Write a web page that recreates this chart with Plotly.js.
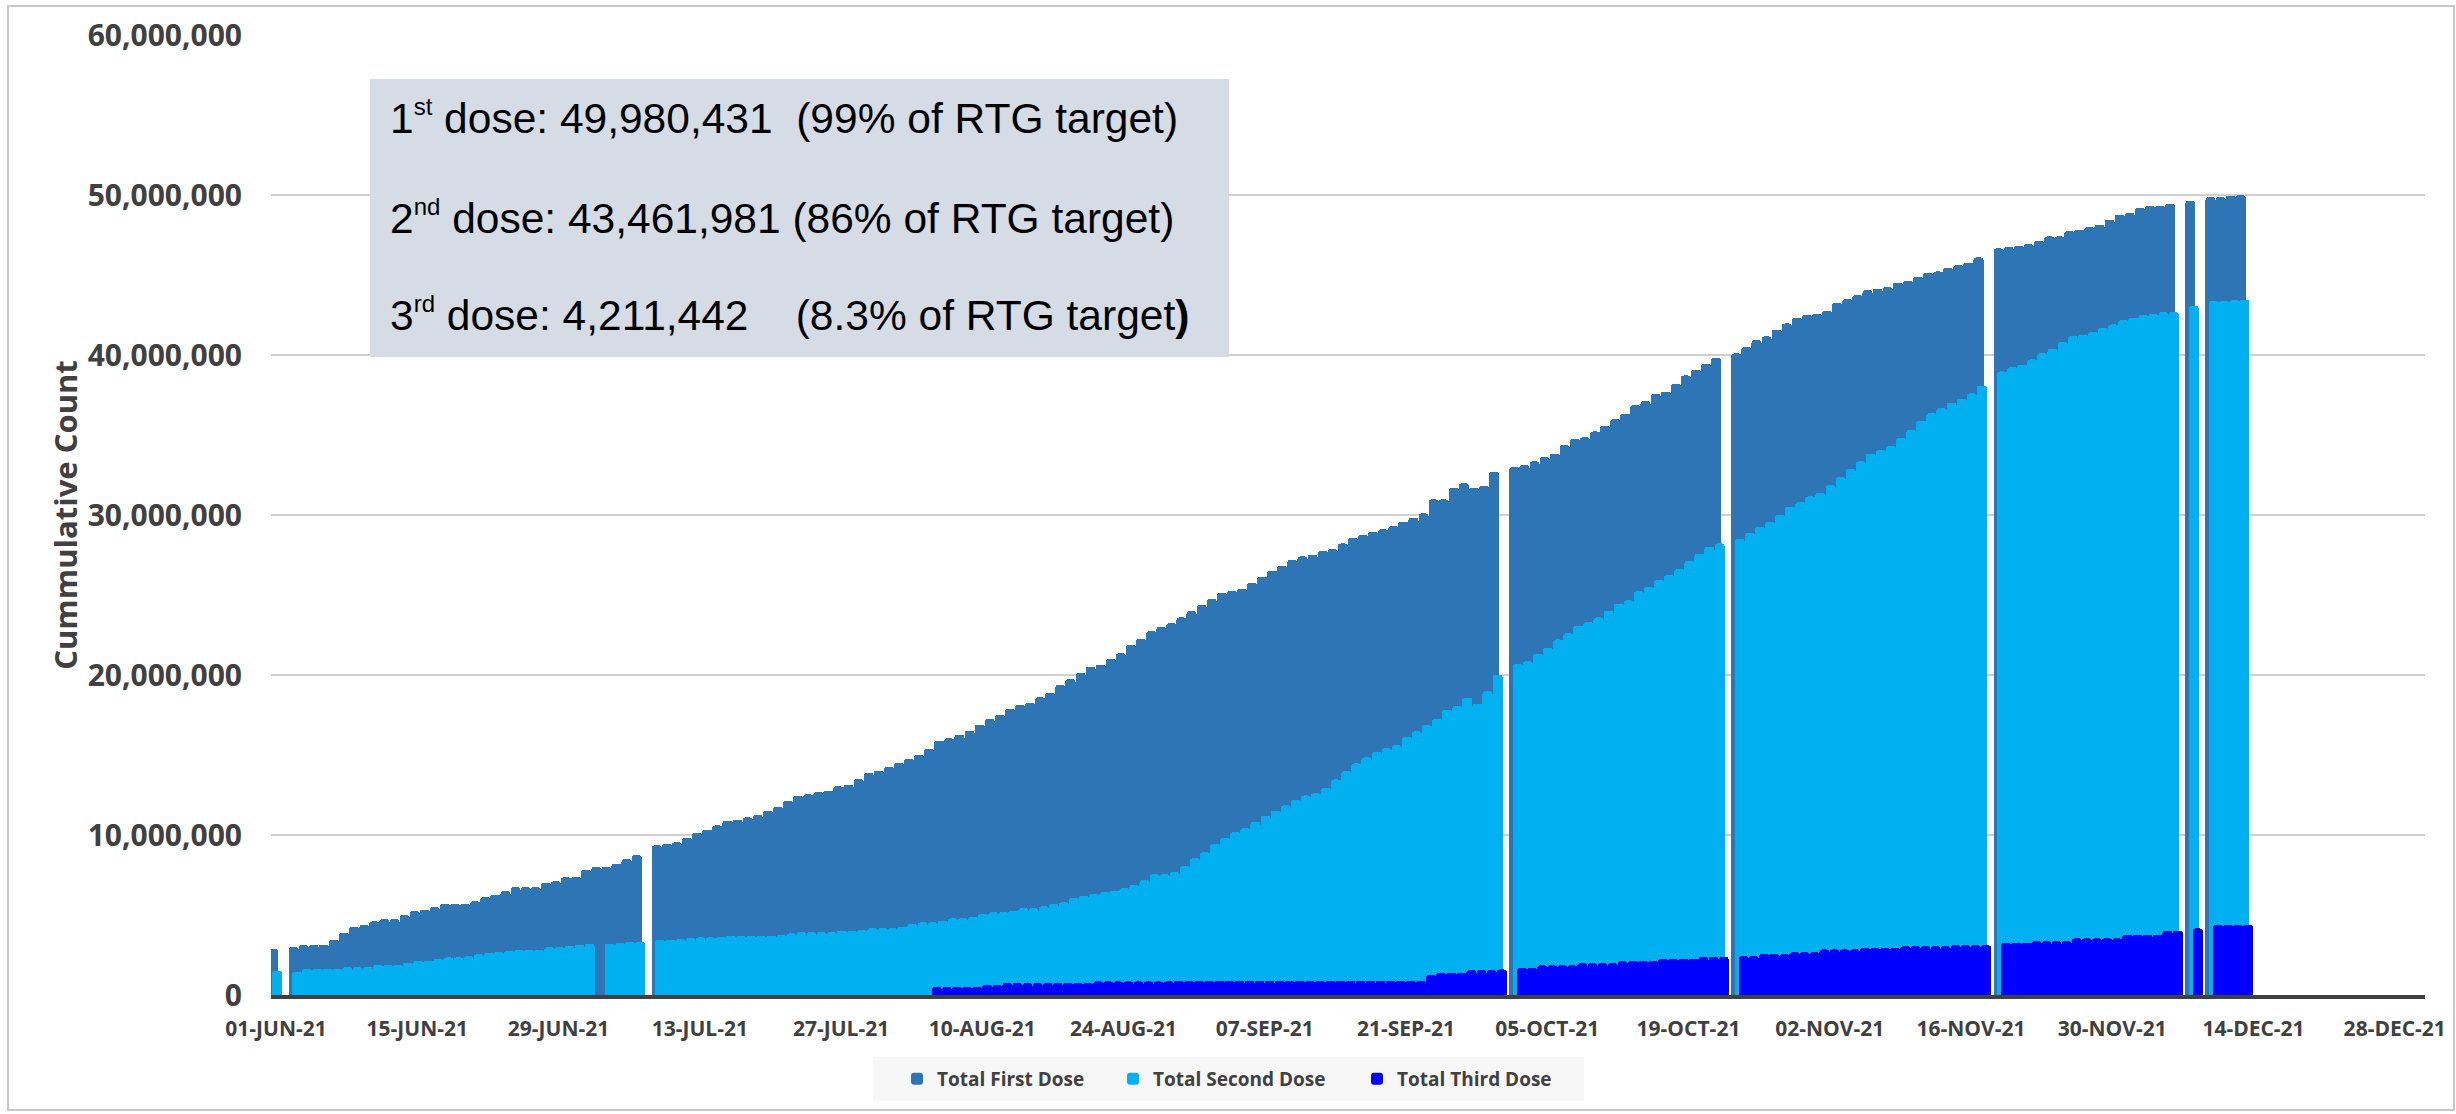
<!DOCTYPE html>
<html>
<head>
<meta charset="utf-8">
<script src="https://cdn.plot.ly/plotly-3.0.1.min.js"></script>
<style>
  html, body { margin: 0; padding: 0; background: #ffffff; }
  #chart { width: 2456px; height: 1114px; }
</style>
</head>
<body>
<div id="chart"></div>
<script>
// ---------------- DATA (values in millions of doses, one entry per day from 01-JUN-21) ----------------
const firstDoseJun = [2.87, null, 2.98, 3.12, 3.12, 3.15, 3.46, 3.87, 4.25, 4.37, 4.60, 4.75, 4.75, 5.00, 5.23, 5.33, 5.48, 5.71, 5.71, 5.71, 5.85, 6.12, 6.27, 6.48, 6.73, 6.73, 6.73, 7.00, 7.10, 7.35];
const firstDoseJul = [7.37, 7.83, 8.00, 8.00, 8.20, 8.50, 8.73, null, 9.35, 9.46, 9.54, 9.81, 10.13, 10.33, 10.60, 10.90, 10.96, 11.10, 11.25, 11.50, 11.75, 12.15, 12.44, 12.54, 12.67, 12.77, 13.04, 13.15, 13.50, 13.88, 14.02];
const firstDoseAug = [14.27, 14.50, 14.75, 15.00, 15.38, 15.90, 16.04, 16.27, 16.52, 16.90, 17.25, 17.50, 17.88, 18.15, 18.25, 18.60, 18.88, 19.38, 19.75, 20.13, 20.52, 20.65, 21.00, 21.35, 21.88, 22.25, 22.73, 23.00, 23.23, 23.60, 24.00];
const firstDoseSep = [24.38, 24.75, 25.13, 25.27, 25.38, 25.75, 26.15, 26.52, 26.82, 27.19, 27.41, 27.53, 27.76, 27.87, 28.22, 28.59, 28.76, 28.96, 29.10, 29.30, 29.59, 29.82, 30.10, 30.97, 30.97, 31.69, 31.98, 31.69, 31.83, 32.69];
const firstDoseOct = [null, 32.98, 33.12, 33.35, 33.61, 33.84, 34.36, 34.76, 34.85, 35.22, 35.56, 35.99, 36.34, 36.86, 37.11, 37.57, 37.71, 38.20, 38.72, 39.09, 39.44, 39.81, null, 40.10, 40.50, 40.93, 41.16, 41.59, 41.97, 42.32, 42.50];
const firstDoseNov = [42.57, 42.77, 43.26, 43.49, 43.75, 44.04, 44.14, 44.24, 44.53, 44.63, 44.89, 45.12, 45.22, 45.44, 45.61, 45.77, 46.10, null, 46.66, 46.75, 46.82, 46.92, 47.15, 47.41, 47.41, 47.73, 47.83, 48.00, 48.15, 48.45];
const firstDoseDec = [48.78, 48.87, 49.20, 49.30, 49.30, 49.43, null, 49.63, null, 49.86, 49.86, 49.95, 49.98];

const secondDoseJun = [1.52, null, 1.46, 1.63, 1.65, 1.65, 1.65, 1.75, 1.75, 1.75, 1.88, 1.88, 1.88, 2.00, 2.12, 2.15, 2.25, 2.35, 2.35, 2.42, 2.54, 2.63, 2.67, 2.75, 2.83, 2.83, 2.83, 2.98, 2.98, 3.08];
const secondDoseJul = [3.13, 3.21, null, 3.21, 3.25, 3.33, 3.33, null, 3.44, 3.46, 3.50, 3.54, 3.60, 3.60, 3.63, 3.71, 3.71, 3.71, 3.71, 3.71, 3.75, 3.85, 3.92, 3.92, 3.92, 3.92, 4.02, 4.02, 4.08, 4.17, 4.17];
const secondDoseAug = [4.17, 4.27, 4.44, 4.54, 4.54, 4.65, 4.79, 4.79, 4.90, 5.06, 5.17, 5.17, 5.27, 5.42, 5.42, 5.54, 5.69, 5.79, 6.06, 6.21, 6.31, 6.42, 6.52, 6.67, 6.88, 7.19, 7.56, 7.56, 7.67, 8.08, 8.54];
const secondDoseSep = [8.92, 9.44, 9.81, 10.17, 10.42, 10.83, 11.21, 11.52, 11.85, 12.18, 12.47, 12.61, 12.95, 13.47, 13.99, 14.47, 14.85, 15.19, 15.42, 15.62, 16.14, 16.48, 16.86, 17.26, 17.83, 18.06, 18.58, 18.21, 18.98, 20.01];
const secondDoseOct = [null, 20.70, 20.85, 21.33, 21.71, 22.22, 22.60, 23.08, 23.31, 23.60, 24.03, 24.46, 24.66, 25.23, 25.52, 25.95, 26.24, 26.61, 27.13, 27.59, 28.02, 28.22, null, 28.50, 28.88, 29.25, 29.59, 30.00, 30.52, 30.80, 31.16];
const secondDoseNov = [31.38, 31.87, 32.37, 32.86, 33.35, 33.84, 34.07, 34.33, 34.82, 35.31, 35.90, 36.36, 36.69, 37.01, 37.27, 37.60, 38.09, null, 38.97, 39.23, 39.40, 39.72, 40.11, 40.38, 40.80, 41.19, 41.26, 41.45, 41.68, 41.91];
const secondDoseDec = [42.17, 42.34, 42.50, 42.57, 42.67, 42.67, null, 43.06, null, 43.38, 43.40, 43.42, 43.46];

const thirdDoseJun = [null, null, null, null, null, null, null, null, null, null, null, null, null, null, null, null, null, null, null, null, null, null, null, null, null, null, null, null, null, null];
const thirdDoseJul = [null, null, null, null, null, null, null, null, null, null, null, null, null, null, null, null, null, null, null, null, null, null, null, null, null, null, null, null, null, null, null];
const thirdDoseAug = [null, null, null, null, 0.50, 0.50, 0.50, 0.50, 0.50, 0.62, 0.62, 0.75, 0.75, 0.75, 0.75, 0.75, 0.75, 0.75, 0.75, 0.75, 0.85, 0.85, 0.85, 0.85, 0.85, 0.85, 0.85, 0.85, 0.90, 0.90, 0.90];
const thirdDoseSep = [0.90, 0.90, 0.90, 0.90, 0.90, 0.90, 0.90, 0.90, 0.90, 0.90, 0.90, 0.90, 0.90, 0.90, 0.90, 0.90, 0.90, 0.90, 0.90, 0.90, 0.90, 0.90, 1.25, 1.40, 1.40, 1.40, 1.55, 1.55, 1.55, 1.60];
const thirdDoseOct = [null, 1.70, 1.70, 1.85, 1.85, 1.85, 1.85, 1.98, 1.98, 1.98, 1.98, 2.12, 2.12, 2.12, 2.12, 2.27, 2.27, 2.27, 2.27, 2.38, 2.38, 2.38, null, 2.42, 2.42, 2.55, 2.55, 2.55, 2.67, 2.67, 2.67];
const thirdDoseNov = [2.85, 2.85, 2.85, 2.85, 2.95, 2.95, 2.95, 2.95, 3.05, 3.05, 3.05, 3.05, 3.05, 3.11, 3.11, 3.11, 3.11, null, 3.27, 3.27, 3.27, 3.37, 3.37, 3.37, 3.37, 3.54, 3.54, 3.54, 3.54, 3.54];
const thirdDoseDec = [3.77, 3.77, 3.77, 3.77, 4.03, 4.03, null, 4.16, null, 4.38, 4.38, 4.38, 4.38];

const seriesNames = ['Total First Dose', 'Total Second Dose', 'Total Third Dose'];
const tickDates = ['2021-06-01', '2021-06-15', '2021-06-29', '2021-07-13', '2021-07-27', '2021-08-10', '2021-08-24',
                   '2021-09-07', '2021-09-21', '2021-10-05', '2021-10-19', '2021-11-02', '2021-11-16', '2021-11-30',
                   '2021-12-14', '2021-12-28'];
const tickLabels = ['01-JUN-21', '15-JUN-21', '29-JUN-21', '13-JUL-21', '27-JUL-21', '10-AUG-21', '24-AUG-21',
                    '07-SEP-21', '21-SEP-21', '05-OCT-21', '19-OCT-21', '02-NOV-21', '16-NOV-21', '30-NOV-21',
                    '14-DEC-21', '28-DEC-21'];
const summaryLines = [
  '1<sup><span style="font-size:24px">st</span></sup> dose: 49,980,431\u00a0\u00a0(99% of RTG target)',
  '2<sup><span style="font-size:24px">nd</span></sup> dose: 43,461,981 (86% of RTG target)',
  '3<sup><span style="font-size:24px">rd</span></sup> dose: 4,211,442\u00a0\u00a0\u00a0\u00a0(8.3% of RTG target<b>)</b>'
];
const yTitle = 'Cummulative Count';

// ---------------- BUILD ----------------
const MILLION = 1e6;
const DAY = 86400000;
const firstDose = [].concat(firstDoseJun, firstDoseJul, firstDoseAug, firstDoseSep, firstDoseOct, firstDoseNov, firstDoseDec);
const secondDose = [].concat(secondDoseJun, secondDoseJul, secondDoseAug, secondDoseSep, secondDoseOct, secondDoseNov, secondDoseDec);
const thirdDose = [].concat(thirdDoseJun, thirdDoseJul, thirdDoseAug, thirdDoseSep, thirdDoseOct, thirdDoseNov, thirdDoseDec);

function buildDates(n) {
  const out = [];
  const t0 = Date.UTC(2021, 5, 1);
  for (let i = 0; i < n; i++) out.push(new Date(t0 + i * DAY).toISOString().slice(0, 10));
  return out;
}
const dates = buildDates(firstDose.length);
const toCount = arr => arr.map(v => (v === null ? null : v * MILLION));

const colors = ['#2E75B6', '#00B0F0', '#0000FF'];
const offsets = [-0.76, -0.42, -0.02];
const legendWidths = [171, 199, 175];
const seriesValues = [firstDose, secondDose, thirdDose];

const traces = seriesValues.map((vals, i) => ({
  type: 'bar',
  name: seriesNames[i],
  x: dates,
  y: toCount(vals),
  width: DAY,
  offset: offsets[i] * DAY,
  marker: { color: colors[i], cornerradius: 3, line: { width: 0 } },
  legendwidth: legendWidths[i],
  hoverinfo: 'x+y+name'
}));

// pixel helpers for the plot area
const PL = 271, PR = 2425, PT = 35, PB = 995;
const px = x => (x - PL) / (PR - PL);
const py = y => (PB - y) / (PB - PT);

const labelFont = { family: 'Open Sans, Lato, sans-serif', color: '#404040', weight: 700 };

const layout = {
  width: 2456, height: 1114,
  margin: { l: PL, r: 2456 - PR, t: PT, b: 1114 - PB, pad: 0 },
  paper_bgcolor: '#ffffff', plot_bgcolor: '#ffffff',
  barmode: 'overlay', bargap: 0,
  showlegend: true,
  xaxis: {
    type: 'date',
    range: ['2021-05-31 12:00', '2021-12-31 00:00'],
    tickmode: 'array', tickvals: tickDates, ticktext: tickLabels,
    showgrid: false, zeroline: false,
    showline: true, linecolor: '#404040', linewidth: 4,
    ticks: '', ticklabelstandoff: 12,
    tickfont: Object.assign({ size: 21 }, labelFont),
    fixedrange: true
  },
  yaxis: {
    range: [0, 60e6], tick0: 0, dtick: 10e6, tickformat: ',.0f',
    showgrid: true, gridcolor: '#d0d0d0', gridwidth: 1.6,
    zeroline: false, showline: false, ticks: '',
    ticklabelstandoff: 28,
    tickfont: Object.assign({ size: 30 }, labelFont),
    title: { text: yTitle, font: Object.assign({ size: 31 }, labelFont), standoff: 0 },
    fixedrange: true
  },
  legend: {
    orientation: 'h',
    x: px(897), xanchor: 'left',
    y: py(1079), yanchor: 'middle',
    bgcolor: 'rgba(0,0,0,0)',
    font: Object.assign({ size: 19 }, labelFont),
    traceorder: 'normal'
  },
  shapes: [
    // summary box
    { type: 'rect', xref: 'paper', yref: 'paper', x0: px(370), x1: px(1229), y0: py(357), y1: py(79),
      fillcolor: '#D6DCE5', line: { width: 0 }, layer: 'above' },
    // legend background
    { type: 'rect', xref: 'paper', yref: 'paper', x0: px(873), x1: px(1584), y0: py(1101), y1: py(1057),
      fillcolor: '#F7F7F7', line: { width: 0 }, layer: 'below' },
    // chart border
    { type: 'rect', xref: 'paper', yref: 'paper', x0: px(8), x1: px(2454), y0: py(1110), y1: py(6),
      fillcolor: 'rgba(0,0,0,0)', line: { color: '#c8c8c8', width: 2 }, layer: 'above' }
  ],
  annotations: summaryLines.map((t, i) => ({
    text: t, xref: 'paper', yref: 'paper',
    x: px(388), y: py([117, 217, 315][i]),
    xanchor: 'left', yanchor: 'middle', showarrow: false,
    font: { family: 'Liberation Sans, Arial, sans-serif', size: 42.5, color: '#000000' }
  }))
};

Plotly.newPlot('chart', traces, layout, { displayModeBar: false, staticPlot: true });
</script>
</body>
</html>
